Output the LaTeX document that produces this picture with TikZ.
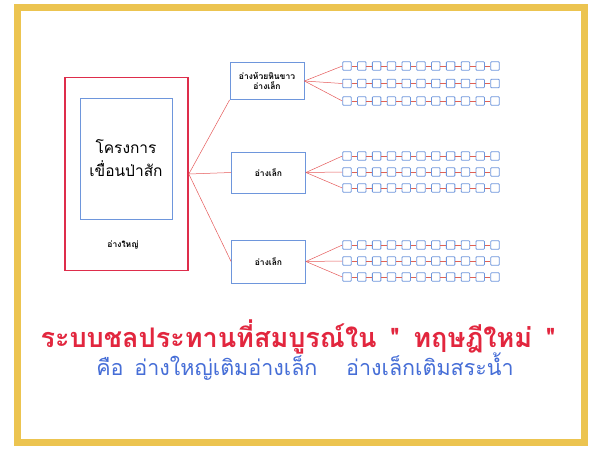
\documentclass[tikz,border=0pt]{standalone}
\usepackage{fontspec}
\setmainfont[Script=Thai]{Loma}
\newfontfamily\thai[Script=Thai]{Loma}
\definecolor{goldc}{RGB}{236,196,80}
\definecolor{redc}{RGB}{222,45,75}
\definecolor{bluec}{RGB}{110,150,220}
\definecolor{linec}{RGB}{230,90,90}
\definecolor{titler}{RGB}{226,38,62}
\definecolor{subb}{RGB}{70,110,215}
\tikzset{
  bigbox/.style={draw=redc, line width=1.6pt, minimum width=123pt, minimum height=193pt, inner sep=0pt},
  innerbox/.style={draw=bluec, line width=0.8pt, minimum width=92pt, minimum height=121pt, inner sep=0pt, align=center, font=\thai\fontsize{15.5}{21}\selectfont},
  resbox/.style={draw=bluec, line width=0.8pt, minimum width=74pt, inner sep=0pt, align=center, font=\thai\bfseries\fontsize{8.5}{10}\selectfont},
  sq/.style={draw=bluec, line width=0.8pt, minimum size=8.5pt, inner sep=0pt, rounded corners=0.8pt},
  conn/.style={draw=linec, line width=0.5pt},
  link/.style={draw=linec!80!brown, line width=0.8pt},
}
\begin{document}
\begin{tikzpicture}[x=1pt,y=-1pt]
\useasboundingbox (0,0) rectangle (591,448);
\fill[white] (0,0) rectangle (591,448);
\draw[goldc, line width=7pt] (17.5,7) rectangle (584.5,442.5);
% big box
\node[bigbox] (big) at (126.5,174) {};
\node[innerbox] (proj) at (126,158.5) {โครงการ\\[2pt]เขื่อนป่าสัก};
\node[font=\thai\bfseries\fontsize{8.5}{10}\selectfont] (biglbl) at (123,245) {อ่างใหญ่};
% reservoirs
\node[resbox, minimum height=37pt] (r1) at (267,81) {อ่างห้วยหินขาว\\อ่างเล็ก};
\node[resbox, minimum height=41pt] (r2) at (268.5,172.5) {อ่างเล็ก};
\node[resbox, minimum height=43pt] (r3) at (268.5,261.5) {อ่างเล็ก};
\coordinate (hub) at (big.east);
\draw[conn] (hub) -- (r1.south west);
\draw[conn] (hub) -- (r2.west);
\draw[conn] (hub) -- (r3.west);
% chains
\foreach \r/\ya/\yb/\yc in {r1/66/83.5/101, r2/156/172/188, r3/245/261/277}{
  \foreach \row/\y in {a/\ya, b/\yb, c/\yc}{
    \foreach \i in {0,...,10}{
      \node[sq] (\r\row\i) at ({347+\i*14.8},\y) {};
    }
    \foreach \i [evaluate=\i as \j using int(\i+1)] in {0,...,9}{
      \draw[link] (\r\row\i.east) -- (\r\row\j.west);
    }
    \draw[conn] (\r.east) -- (\r\row0.west);
  }
}
% titles
\node[text=titler, font=\thai\bfseries\fontsize{27}{32}\selectfont] (title) at (298,337) {ระบบชลประทานที่สมบูรณ์ใน \,"\, ทฤษฎีใหม่ \,"};
\node[text=subb, font=\thai\fontsize{21.5}{25}\selectfont] (sub) at (305,367) {คือ\, อ่างใหญ่เติมอ่างเล็ก \quad อ่างเล็กเติมสระน้ำ};
\end{tikzpicture}
\end{document}
